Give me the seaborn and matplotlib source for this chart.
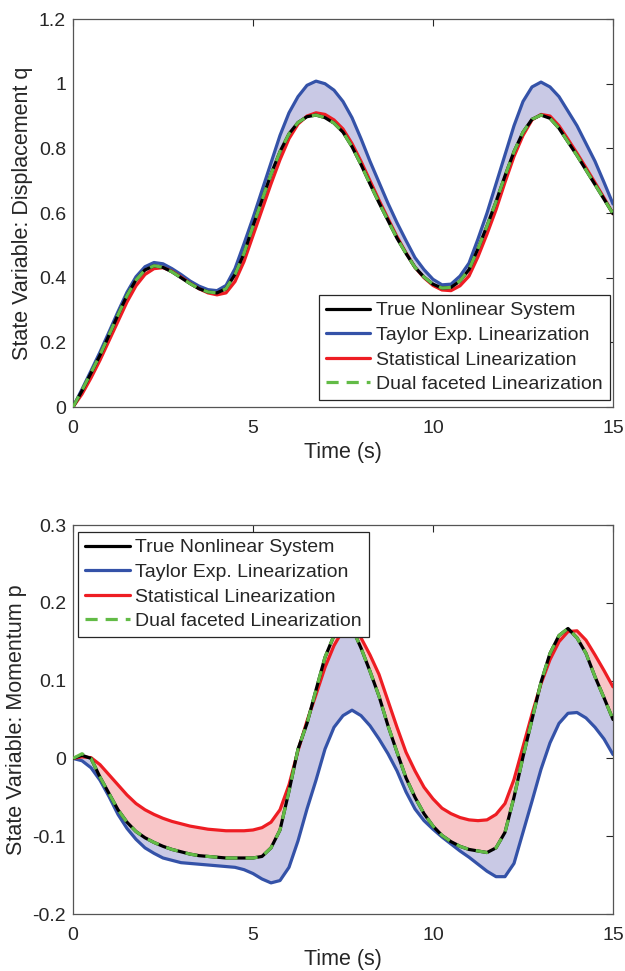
import numpy as np
import matplotlib
matplotlib.use("Agg")
import matplotlib.pyplot as plt
import seaborn as sns

# time grid (s), one sample every 0.25 s
t = np.arange(0, 15.001, 0.25)

# displacement q
q_true = [0.000, 0.050, 0.105, 0.160, 0.222, 0.285, 0.345, 0.393, 0.424, 0.437,
          0.432, 0.418, 0.400, 0.382, 0.366, 0.356, 0.353, 0.366, 0.410, 0.475,
          0.560, 0.640, 0.720, 0.790, 0.845, 0.880, 0.898, 0.903, 0.895, 0.878,
          0.850, 0.805, 0.750, 0.690, 0.632, 0.577, 0.522, 0.475, 0.432, 0.402,
          0.380, 0.368, 0.370, 0.390, 0.425, 0.490, 0.560, 0.635, 0.715, 0.790,
          0.850, 0.890, 0.903, 0.893, 0.862, 0.820, 0.778, 0.733, 0.688, 0.643,
          0.598]
q_taylor = [0.000, 0.055, 0.112, 0.170, 0.232, 0.295, 0.355, 0.403, 0.434, 0.447,
            0.443, 0.428, 0.410, 0.390, 0.374, 0.363, 0.360, 0.376, 0.428, 0.505,
            0.585, 0.670, 0.755, 0.840, 0.910, 0.960, 0.995, 1.008, 1.000, 0.980,
            0.945, 0.895, 0.830, 0.760, 0.695, 0.630, 0.570, 0.515, 0.462, 0.425,
            0.395, 0.378, 0.380, 0.405, 0.445, 0.520, 0.600, 0.690, 0.780, 0.870,
            0.945, 0.990, 1.005, 0.990, 0.960, 0.915, 0.870, 0.815, 0.760, 0.695,
            0.628]
q_stat = [0.000, 0.040, 0.090, 0.145, 0.205, 0.265, 0.325, 0.375, 0.410, 0.428,
          0.431, 0.420, 0.402, 0.383, 0.366, 0.353, 0.347, 0.353, 0.388, 0.450,
          0.530, 0.610, 0.690, 0.765, 0.830, 0.875, 0.900, 0.910, 0.905, 0.888,
          0.860, 0.815, 0.760, 0.700, 0.640, 0.583, 0.527, 0.477, 0.432, 0.400,
          0.376, 0.362, 0.360, 0.375, 0.405, 0.465, 0.535, 0.610, 0.695, 0.775,
          0.840, 0.888, 0.905, 0.900, 0.870, 0.828, 0.785, 0.740, 0.694, 0.647,
          0.598]
q_dual = [0.000, 0.052, 0.106, 0.161, 0.223, 0.285, 0.345, 0.393, 0.424, 0.437,
          0.432, 0.418, 0.400, 0.382, 0.366, 0.356, 0.353, 0.366, 0.410, 0.475,
          0.560, 0.640, 0.720, 0.790, 0.845, 0.880, 0.898, 0.903, 0.895, 0.878,
          0.850, 0.805, 0.750, 0.690, 0.632, 0.577, 0.522, 0.475, 0.432, 0.402,
          0.380, 0.368, 0.370, 0.390, 0.425, 0.490, 0.560, 0.635, 0.715, 0.790,
          0.850, 0.890, 0.903, 0.893, 0.862, 0.820, 0.778, 0.733, 0.688, 0.643,
          0.598]

# momentum p
p_true = [0.000, 0.004, 0.000, -0.024, -0.045, -0.066, -0.082, -0.094, -0.102, -0.108,
          -0.113, -0.117, -0.120, -0.123, -0.125, -0.126, -0.127, -0.128, -0.128, -0.128,
          -0.128, -0.126, -0.115, -0.092, -0.042, 0.012, 0.045, 0.088, 0.130, 0.158,
          0.175, 0.168, 0.142, 0.112, 0.080, 0.042, 0.008, -0.025, -0.050, -0.071,
          -0.087, -0.099, -0.107, -0.113, -0.117, -0.119, -0.121, -0.115, -0.095, -0.050,
          0.002, 0.050, 0.098, 0.135, 0.158, 0.167, 0.155, 0.135, 0.105, 0.078,
          0.050]
p_taylor = [0.000, -0.003, -0.012, -0.028, -0.049, -0.072, -0.090, -0.104, -0.115, -0.122,
            -0.128, -0.131, -0.134, -0.135, -0.136, -0.137, -0.138, -0.139, -0.140, -0.143,
            -0.148, -0.155, -0.160, -0.157, -0.140, -0.106, -0.065, -0.028, 0.012, 0.040,
            0.055, 0.062, 0.055, 0.042, 0.025, 0.006, -0.016, -0.043, -0.065, -0.080,
            -0.091, -0.101, -0.110, -0.119, -0.127, -0.136, -0.145, -0.152, -0.152, -0.135,
            -0.095, -0.055, -0.014, 0.020, 0.045, 0.058, 0.059, 0.052, 0.040, 0.025,
            0.005]
p_stat = [0.000, 0.002, 0.001, -0.008, -0.021, -0.034, -0.047, -0.058, -0.066, -0.072,
          -0.077, -0.081, -0.084, -0.087, -0.089, -0.091, -0.092, -0.093, -0.093, -0.093,
          -0.092, -0.089, -0.082, -0.066, -0.034, 0.010, 0.048, 0.082, 0.117, 0.145,
          0.165, 0.172, 0.155, 0.133, 0.108, 0.074, 0.040, 0.008, -0.016, -0.037,
          -0.052, -0.064, -0.071, -0.076, -0.079, -0.080, -0.079, -0.072, -0.058, -0.027,
          0.015, 0.057, 0.096, 0.127, 0.150, 0.163, 0.164, 0.152, 0.133, 0.113,
          0.092]
p_dual = [0.000, 0.006, 0.000, -0.024, -0.045, -0.066, -0.082, -0.094, -0.102, -0.108,
          -0.113, -0.117, -0.120, -0.123, -0.125, -0.126, -0.127, -0.128, -0.128, -0.128,
          -0.128, -0.126, -0.115, -0.092, -0.042, 0.012, 0.045, 0.088, 0.130, 0.158,
          0.175, 0.168, 0.142, 0.112, 0.080, 0.042, 0.008, -0.025, -0.050, -0.071,
          -0.087, -0.099, -0.107, -0.113, -0.117, -0.119, -0.121, -0.115, -0.095, -0.050,
          0.002, 0.050, 0.098, 0.135, 0.158, 0.167, 0.155, 0.135, 0.105, 0.078,
          0.050]

labels = ["True Nonlinear System", "Taylor Exp. Linearization",
          "Statistical Linearization", "Dual faceted Linearization"]

C_TRUE = "black"
C_TAYLOR = "#3452a8"
C_STAT = "#ee1d23"
C_DUAL = "#62bb46"
FILL_TAYLOR = "#c9c9e5"
FILL_STAT = "#f8c6c8"

sns.set_theme(style="white")
plt.rcParams["font.family"] = ["Liberation Sans", "DejaVu Sans"]

fig = plt.figure(figsize=(6.25, 9.71), dpi=100)
ax1 = fig.add_axes([0.1168, 0.5808, 0.864, 0.3996])
ax2 = fig.add_axes([0.1168, 0.0587, 0.864, 0.4006])


def draw_panel(ax, true, taylor, stat, dual):
    ax.fill_between(t, true, taylor, color=FILL_TAYLOR, lw=0, zorder=1)
    ax.fill_between(t, true, stat, color=FILL_STAT, lw=0, zorder=1)
    sns.lineplot(x=t, y=taylor, ax=ax, color=C_TAYLOR, lw=2.3, zorder=3)
    sns.lineplot(x=t, y=stat, ax=ax, color=C_STAT, lw=2.3, zorder=4)
    sns.lineplot(x=t, y=true, ax=ax, color=C_TRUE, lw=2.3, zorder=5)
    sns.lineplot(x=t, y=dual, ax=ax, color=C_DUAL, lw=2.3, zorder=6,
                 linestyle=(0, (3.8, 2.5)))
    lines = ax.get_lines()
    handles = [lines[2], lines[0], lines[1], lines[3]]
    ax.set_xlim(0, 15)
    ax.set_xticks([0, 5, 10, 15])
    ax.set_xlabel("Time (s)", fontsize=15.5, labelpad=4)
    ax.tick_params(direction="in", length=5, width=0.8, top=True, right=True,
                   labelsize=14, colors="#262626")
    ax.tick_params(axis="x", pad=9)
    ax.tick_params(axis="y", pad=5)
    for s in ax.spines.values():
        s.set_color("#555555")
        s.set_linewidth(0.9)
    return handles


h1 = draw_panel(ax1, q_true, q_taylor, q_stat, q_dual)
ax1.set_ylim(0, 1.2)
ax1.set_yticks([0, 0.2, 0.4, 0.6, 0.8, 1.0, 1.2])
ax1.set_yticklabels(["0", "0.2", "0.4", "0.6", "0.8", "1", "1.2"])
ax1.set_ylabel("State Variable: Displacement q", fontsize=15.5, labelpad=4)

h2 = draw_panel(ax2, p_true, p_taylor, p_stat, p_dual)
ax2.set_ylim(-0.2, 0.3)
ax2.set_yticks([-0.2, -0.1, 0, 0.1, 0.2, 0.3])
ax2.set_yticklabels(["-0.2", "-0.1", "0", "0.1", "0.2", "0.3"])
ax2.set_ylabel("State Variable: Momentum p", fontsize=15.5, labelpad=4)

leg_kw = dict(fontsize=14, frameon=True, fancybox=False, framealpha=1,
              edgecolor="#262626", handlelength=2.3, handletextpad=0.3,
              labelspacing=0.36, borderpad=0.35, borderaxespad=0)
leg1 = ax1.legend(h1, labels, loc="lower right",
                  bbox_to_anchor=(0.994, 0.018), **leg_kw)
leg2 = ax2.legend(h2, labels, loc="upper left",
                  bbox_to_anchor=(0.0093, 0.982), **leg_kw)
for leg in (leg1, leg2):
    leg.get_frame().set_linewidth(0.9)
    leg.set_zorder(10)

fig.savefig("out.png", dpi=100)
